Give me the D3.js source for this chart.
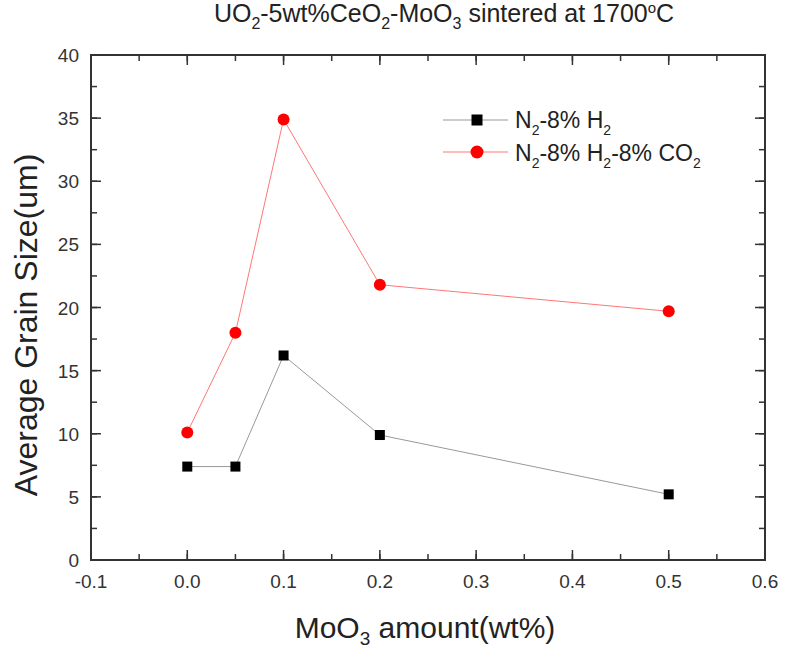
<!DOCTYPE html>
<html>
<head>
<meta charset="utf-8">
<script src="https://cdn.jsdelivr.net/npm/d3@7"></script>
<style>
  body { margin: 0; background: #fff; }
  svg { font-family: "Liberation Sans", Arial, sans-serif; }
</style>
</head>
<body>
<svg id="chart" width="785" height="648"></svg>
<script>
var moo3 = [0.0, 0.05, 0.1, 0.2, 0.5];
var h2 = [7.4, 7.4, 16.2, 9.9, 5.2];
var co2 = [10.1, 18.0, 34.9, 21.8, 19.7];
var xTicks = [-0.1, 0.0, 0.1, 0.2, 0.3, 0.4, 0.5, 0.6];
var yTicks = [0, 5, 10, 15, 20, 25, 30, 35, 40];

var svg = d3.select("#chart");
var pL = 91, pR = 765, pT = 55, pB = 560;

var x = d3.scaleLinear().domain([-0.1, 0.6]).range([pL, pR]);
var y = d3.scaleLinear().domain([0, 40]).range([pB, pT]);

var minorX = d3.range(-0.1, 0.6001, 0.05);
var minorY = d3.range(0, 40.001, 2.5);

// frame
svg.append("rect")
  .attr("x", pL).attr("y", pT)
  .attr("width", pR - pL).attr("height", pB - pT)
  .attr("fill", "none").attr("stroke", "#333").attr("stroke-width", 2);

// inward ticks on all four sides
function ticks(vals, len) {
  vals.forEach(function(v) {
    var px = x(v);
    svg.append("line").attr("x1", px).attr("x2", px).attr("y1", pB).attr("y2", pB - len)
      .attr("stroke", "#333").attr("stroke-width", 1.5);
    svg.append("line").attr("x1", px).attr("x2", px).attr("y1", pT).attr("y2", pT + len)
      .attr("stroke", "#333").attr("stroke-width", 1.5);
  });
}
function yticks(vals, len) {
  vals.forEach(function(v) {
    var py = y(v);
    svg.append("line").attr("x1", pL).attr("x2", pL + len).attr("y1", py).attr("y2", py)
      .attr("stroke", "#333").attr("stroke-width", 1.5);
    svg.append("line").attr("x1", pR).attr("x2", pR - len).attr("y1", py).attr("y2", py)
      .attr("stroke", "#333").attr("stroke-width", 1.5);
  });
}
ticks(minorX, 6);
ticks(xTicks, 10);
yticks(minorY, 6);
yticks(yTicks, 10);

svg.selectAll(".xl").data(xTicks).enter().append("text")
  .attr("x", function(d) { return x(d); })
  .attr("y", pB + 28)
  .attr("text-anchor", "middle")
  .attr("font-size", 19).attr("fill", "#333")
  .text(function(d) { return d.toFixed(1); });

svg.selectAll(".yl").data(yTicks).enter().append("text")
  .attr("x", pL - 12)
  .attr("y", function(d) { return y(d) + 7; })
  .attr("text-anchor", "end")
  .attr("font-size", 19).attr("fill", "#333")
  .text(function(d) { return d; });

// axis titles
var xt = svg.append("text").attr("x", 425).attr("y", 638).attr("text-anchor", "middle")
  .attr("font-size", 30).attr("fill", "#222");
xt.append("tspan").text("MoO");
xt.append("tspan").attr("font-size", 19).attr("dy", 7).text("3");
xt.append("tspan").attr("dy", -7).text(" amount(wt%)");

svg.append("text")
  .attr("transform", "translate(37,325) rotate(-90)")
  .attr("text-anchor", "middle")
  .attr("font-size", 32).attr("fill", "#222")
  .text("Average Grain Size(um)");

// title
var t = svg.append("text").attr("x", 444).attr("y", 22).attr("text-anchor", "middle")
  .attr("font-size", 25).attr("fill", "#222");
t.append("tspan").text("UO");
t.append("tspan").attr("font-size", 16).attr("dy", 7).text("2");
t.append("tspan").attr("dy", -7).text("-5wt%CeO");
t.append("tspan").attr("font-size", 16).attr("dy", 7).text("2");
t.append("tspan").attr("dy", -7).text("-MoO");
t.append("tspan").attr("font-size", 16).attr("dy", 7).text("3");
t.append("tspan").attr("dy", -7).text(" sintered at 1700");
t.append("tspan").attr("font-size", 15).attr("dy", -9).text("o");
t.append("tspan").attr("dy", 9).text("C");

// series
var line = d3.line().x(function(d) { return x(d[0]); }).y(function(d) { return y(d[1]); });
var h2pts = moo3.map(function(v, i) { return [v, h2[i]]; });
var co2pts = moo3.map(function(v, i) { return [v, co2[i]]; });

svg.append("path").datum(h2pts).attr("d", line)
  .attr("fill", "none").attr("stroke", "#999").attr("stroke-width", 1);
svg.append("path").datum(co2pts).attr("d", line)
  .attr("fill", "none").attr("stroke", "#ff7777").attr("stroke-width", 1);

svg.selectAll(".sq").data(h2pts).enter().append("rect")
  .attr("x", function(d) { return x(d[0]) - 5; })
  .attr("y", function(d) { return y(d[1]) - 5; })
  .attr("width", 10).attr("height", 10).attr("fill", "#000");
svg.selectAll(".ci").data(co2pts).enter().append("circle")
  .attr("cx", function(d) { return x(d[0]); })
  .attr("cy", function(d) { return y(d[1]); })
  .attr("r", 6).attr("fill", "#ff0000");

// legend
var lg = svg.append("g");
lg.append("line").attr("x1", 443).attr("x2", 508).attr("y1", 120).attr("y2", 120)
  .attr("stroke", "#999").attr("stroke-width", 1);
lg.append("rect").attr("x", 471.5).attr("y", 114.5).attr("width", 11).attr("height", 11).attr("fill", "#000");
lg.append("line").attr("x1", 443).attr("x2", 508).attr("y1", 152).attr("y2", 152)
  .attr("stroke", "#ff7777").attr("stroke-width", 1);
lg.append("circle").attr("cx", 477).attr("cy", 152).attr("r", 6.5).attr("fill", "#ff0000");

var l1 = lg.append("text").attr("x", 515).attr("y", 128).attr("font-size", 23).attr("fill", "#222");
l1.append("tspan").text("N");
l1.append("tspan").attr("font-size", 14).attr("dy", 7).text("2");
l1.append("tspan").attr("dy", -7).text("-8% H");
l1.append("tspan").attr("font-size", 14).attr("dy", 7).text("2");

var l2 = lg.append("text").attr("x", 515).attr("y", 161).attr("font-size", 23).attr("fill", "#222");
l2.append("tspan").text("N");
l2.append("tspan").attr("font-size", 14).attr("dy", 7).text("2");
l2.append("tspan").attr("dy", -7).text("-8% H");
l2.append("tspan").attr("font-size", 14).attr("dy", 7).text("2");
l2.append("tspan").attr("dy", -7).text("-8% CO");
l2.append("tspan").attr("font-size", 14).attr("dy", 7).text("2");
</script>
</body>
</html>
